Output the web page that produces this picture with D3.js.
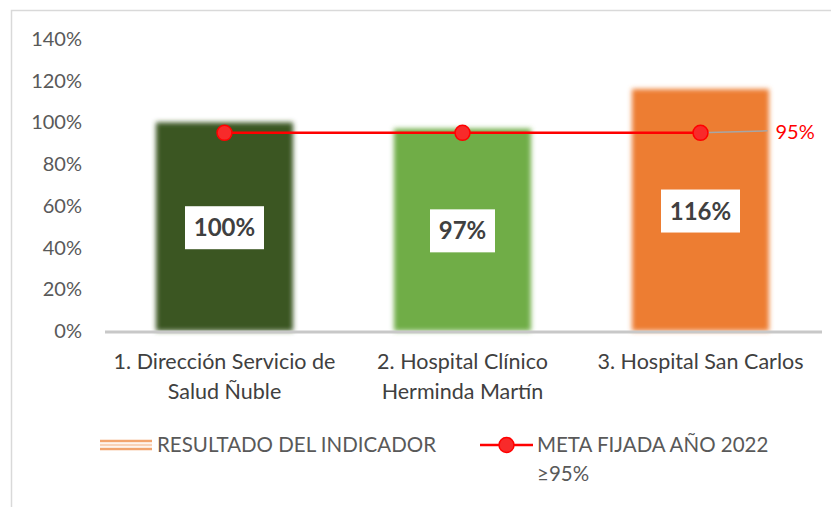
<!DOCTYPE html>
<html>
<head>
<meta charset="utf-8">
<script src="https://cdn.jsdelivr.net/npm/d3@7"></script>
<style>
  body { margin: 0; background: #fff; }
  text { font-family: Lato, "Noto Sans", sans-serif; }
</style>
</head>
<body>
<div id="chart"></div>
<script>
// chart data
const categories = [
    ['1. Dirección Servicio de', 'Salud Ñuble'],
    ['2. Hospital Clínico', 'Herminda Martín'],
    ['3. Hospital San Carlos']
];
const resultados = [1.00, 0.97, 1.16];
const meta = [0.95, 0.95, 0.95];
const barColors = ['#3b5724', '#70ad47', '#ed7d31'];
const yTicks = [0, 0.2, 0.4, 0.6, 0.8, 1.0, 1.2, 1.4];
const legendLabels = ['RESULTADO DEL INDICADOR', 'META FIJADA AÑO 2022', '≥95%'];

const width = 831, height = 507;
const svg = d3.select('#chart').append('svg')
    .attr('width', width)
    .attr('height', height);

const defs = svg.append('defs');
defs.append('filter')
    .attr('id', 'soft')
    .attr('x', '-10%').attr('y', '-10%')
    .attr('width', '120%').attr('height', '120%')
    .append('feGaussianBlur')
    .attr('stdDeviation', 2.5);

// outer frame
svg.append('path')
    .attr('d', `M11.5,${height} V10.5 H${width}`)
    .attr('fill', 'none')
    .attr('stroke', '#d9d9d9')
    .attr('stroke-width', 1.5);

const ids = categories.map((c, i) => i);
const x = d3.scaleBand().domain(ids).range([105.5, 819.5]).paddingInner(0.424).paddingOuter(0.212);
const y = d3.scaleLinear().domain([0, 1.4]).range([331, 39]);
const pct = d3.format('.0%');

// y tick labels
svg.selectAll('.ytick')
    .data(yTicks)
    .enter()
    .append('text')
    .attr('x', 82)
    .attr('y', d => y(d))
    .attr('dy', '0.35em')
    .attr('text-anchor', 'end')
    .attr('font-size', '20px')
    .attr('fill', '#595959')
    .text(d => pct(d));

// bars
svg.selectAll('.bar')
    .data(resultados)
    .enter()
    .append('rect')
    .attr('x', (d, i) => x(i))
    .attr('y', d => y(d))
    .attr('width', x.bandwidth())
    .attr('height', d => y(0) - y(d))
    .attr('fill', (d, i) => barColors[i])
    .attr('filter', 'url(#soft)');

// axis line
svg.append('line')
    .attr('x1', 105).attr('x2', 822)
    .attr('y1', y(0) + 1).attr('y2', y(0) + 1)
    .attr('stroke', '#c8c8c8')
    .attr('stroke-width', 3);

// data labels
const labelG = svg.selectAll('.dlabel')
    .data(resultados)
    .enter()
    .append('g')
    .attr('transform', (d, i) => `translate(${x(i) + x.bandwidth() / 2},${(y(d) + y(0)) / 2 + 1})`);
labelG.append('rect')
    .attr('x', d => d >= 1 ? -39.5 : -32.5)
    .attr('y', -21.5)
    .attr('width', d => d >= 1 ? 79 : 65)
    .attr('height', 43)
    .attr('fill', '#fff');
labelG.append('text')
    .attr('text-anchor', 'middle')
    .attr('dy', '0.36em')
    .attr('font-size', '24px')
    .attr('font-weight', 'bold')
    .attr('fill', '#404040')
    .text(d => pct(d));

// meta line
const cx = i => x(i) + x.bandwidth() / 2;
svg.append('path')
    .datum(meta)
    .attr('d', d3.line().x((d, i) => cx(i)).y(d => y(d)))
    .attr('fill', 'none')
    .attr('stroke', '#ff0000')
    .attr('stroke-width', 2.5);

// leader line + label for last point
const last = meta.length - 1;
svg.append('line')
    .attr('x1', cx(last)).attr('y1', y(meta[last]))
    .attr('x2', cx(last) + 67).attr('y2', y(meta[last]) - 2)
    .attr('stroke', '#a6a6a6')
    .attr('stroke-width', 1.5);

svg.selectAll('.marker')
    .data(meta)
    .enter()
    .append('circle')
    .attr('cx', (d, i) => cx(i))
    .attr('cy', d => y(d))
    .attr('r', 7.5)
    .attr('fill', '#f82a2a')
    .attr('stroke', '#ff0000')
    .attr('stroke-width', 1.5);

svg.append('text')
    .attr('x', cx(last) + 75)
    .attr('y', y(meta[last]) - 1)
    .attr('dy', '0.35em')
    .attr('font-size', '20px')
    .attr('fill', '#ff0000')
    .text(pct(meta[last]));

// category labels
const catG = svg.selectAll('.cat')
    .data(categories)
    .enter()
    .append('text')
    .attr('x', (d, i) => cx(i))
    .attr('y', 369)
    .attr('text-anchor', 'middle')
    .attr('font-size', '21.5px')
    .attr('fill', '#404040');
catG.selectAll('tspan')
    .data(d => d)
    .enter()
    .append('tspan')
    .attr('x', function () { return this.parentNode.getAttribute('x'); })
    .attr('dy', (d, i) => i === 0 ? 0 : 30)
    .text(d => d);

// legend
const ly = 445;
[-4, 0, 4].forEach((o, i) => {
    svg.append('line')
        .attr('x1', 100).attr('x2', 152)
        .attr('y1', ly + o).attr('y2', ly + o)
        .attr('stroke', barColors[2])
        .attr('stroke-opacity', i === 1 ? 0.35 : 0.7)
        .attr('stroke-width', 2.5);
});
svg.append('text')
    .attr('x', 157).attr('y', ly)
    .attr('dy', '0.35em')
    .attr('font-size', '20.5px')
    .attr('fill', '#595959')
    .text(legendLabels[0]);

svg.append('line')
    .attr('x1', 480).attr('x2', 533)
    .attr('y1', ly).attr('y2', ly)
    .attr('stroke', '#ff0000')
    .attr('stroke-width', 2.5);
svg.append('circle')
    .attr('cx', 506.5).attr('cy', ly)
    .attr('r', 7.5)
    .attr('fill', '#f82a2a')
    .attr('stroke', '#ff0000')
    .attr('stroke-width', 1.5);
svg.append('text')
    .attr('x', 537).attr('y', ly)
    .attr('dy', '0.35em')
    .attr('font-size', '20.5px')
    .attr('fill', '#595959')
    .text(legendLabels[1]);
svg.append('text')
    .attr('x', 537).attr('y', ly + 29)
    .attr('dy', '0.35em')
    .attr('font-size', '20.5px')
    .attr('fill', '#595959')
    .text(legendLabels[2]);
</script>
</body>
</html>
